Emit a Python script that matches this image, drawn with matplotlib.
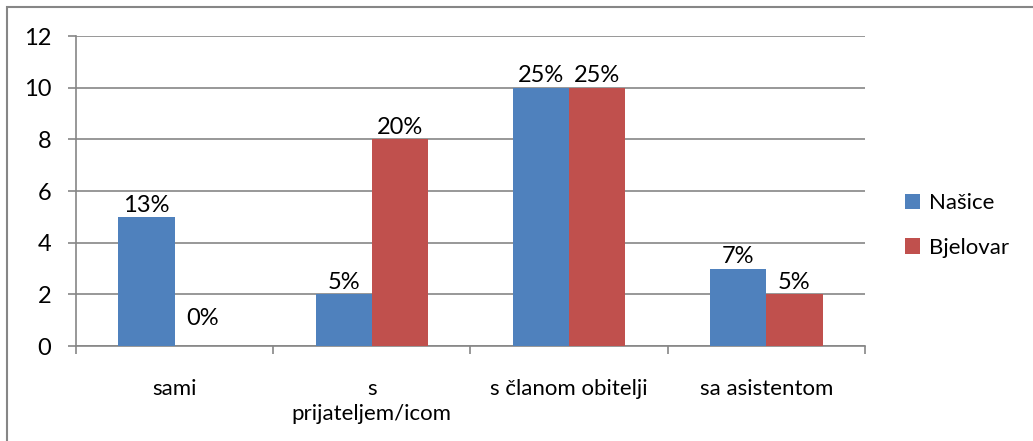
import numpy as np
import matplotlib.pyplot as plt
from matplotlib.patches import Rectangle

categories = ["sami", "s\nprijateljem/icom", "s članom obitelji", "sa asistentom"]
nasice = [5, 2, 10, 3]
bjelovar = [0, 8, 10, 2]
nasice_labels = ["13%", "5%", "25%", "7%"]
bjelovar_labels = ["0%", "20%", "25%", "5%"]

plt.rcParams['font.family'] = ['Lato', 'DejaVu Sans']
plt.rcParams['font.size'] = 16

fig = plt.figure(figsize=(10.33, 4.41), dpi=100)
ax = fig.add_axes([0.0736, 0.2154, 0.7637, 0.7026])

x = np.arange(len(categories))
w = 0.285
b1 = ax.bar(x - w / 2, nasice, w, color="#4F81BD", label="Našice", zorder=3)
b2 = ax.bar(x + w / 2, bjelovar, w, color="#C0504D", label="Bjelovar", zorder=3)
ax.bar_label(b1, labels=nasice_labels, padding=1, fontsize=17)
ax.bar_label(b2, labels=bjelovar_labels, padding=1, fontsize=17)
# zero label in Excel sits higher above the axis
ax.texts[-4].set_position((0, 12))

ax.set_xlim(-0.5, len(categories) - 0.5)
ax.set_ylim(0, 12)
ax.set_yticks(range(0, 13, 2))
ax.grid(axis="y", color="#868686", linewidth=1.2, zorder=0)
ax.set_xticks(x)
ax.set_xticklabels(categories, linespacing=1.3)
ax.set_xticks(np.arange(-0.5, len(categories)), minor=True)
ax.tick_params(axis="x", which="major", length=0, pad=24)
ax.tick_params(axis="x", which="minor", length=6, color="#868686", width=1.2)
ax.tick_params(axis="y", length=6, color="#868686", width=1.2, pad=12, labelsize=17)
for s in ["top", "right"]:
    ax.spines[s].set_visible(False)
for s in ["left", "bottom"]:
    ax.spines[s].set_color("#868686")
    ax.spines[s].set_linewidth(1.2)

ax.legend(loc="center left", bbox_to_anchor=(0.876, 0.489), bbox_transform=fig.transFigure,
          frameon=False, borderpad=0, borderaxespad=0,
          handlelength=0.7, handleheight=0.7, handletextpad=0.4,
          labelspacing=1.1)

fig.patches.append(Rectangle((0.007, -0.1), 1.1, 1.085, transform=fig.transFigure,
                             fill=False, edgecolor="#868686", linewidth=1.5))

fig.savefig("out.png", dpi=100)
